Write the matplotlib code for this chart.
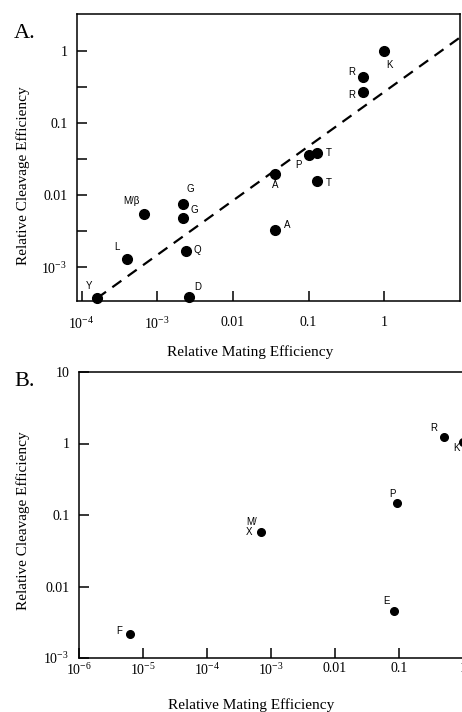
import numpy as np
import matplotlib
matplotlib.use('Agg')
import matplotlib.pyplot as plt

plt.rcParams['mathtext.fontset'] = 'custom'
plt.rcParams['mathtext.rm'] = 'Liberation Serif'
plt.rcParams['mathtext.it'] = 'Liberation Serif:italic'
plt.rcParams['mathtext.bf'] = 'Liberation Serif:bold'

serif = 'Liberation Serif'
sans = 'Liberation Sans'

#%% panel A data
a_mating = [1.0, 0.53, 0.53, 0.10, 0.13, 0.036, 0.13, 0.036,
            6.6e-4, 2.2e-3, 2.2e-3, 2.4e-3, 4.0e-4, 1.58e-4, 2.65e-3]
a_cleav = [1.0, 0.43, 0.27, 0.036, 0.038, 0.0196, 0.0156, 0.0033,
           0.0055, 0.0075, 0.0048, 0.00166, 0.00129, 3.7e-4, 3.8e-4]
a_names = ['K', 'R', 'R', 'P', 'T', 'A', 'T', 'A',
           'M/β', 'G', 'G', 'Q', 'L', 'Y', 'D']
# label offsets in pixels (layout only)
a_off = [(5, -14), (-12, 5), (-12, -3), (-10, -10), (11, 0), (0, -11), (11, -2), (12, 5),
         (-12, 13), (7, 15), (11, 8), (11, 1), (-10, 12), (-8, 12), (8, 10)]

fit_x = [1.6e-4, 10]
fit_y = [3.7e-4, 1.53]

a_xticks = [1e-4, 1e-3, 1e-2, 0.1, 1]
a_xlabels = [r'$10^{-4}$', r'$10^{-3}$', '0.01', '0.1', '1']
a_yticks = [1e-3, 1e-2, 0.1, 1]
a_ylabels = [r'$10^{-3}$', '0.01', '0.1', '1']

#%% panel B data
b_mating = [6.3e-6, 6.9e-4, 0.093, 0.50, 1.0, 0.083]
b_cleav = [2.2e-3, 0.058, 0.148, 1.23, 1.05, 0.0046]
b_names = ['F', 'M/\nX', 'P', 'R', 'K', 'E']
b_off = [(-11, 3), (-4, -5), (-5, 9), (-10, 9), (-7, -6), (-7, 10)]

b_xticks = [1e-6, 1e-5, 1e-4, 1e-3, 1e-2, 0.1, 1]
b_xlabels = [r'$10^{-6}$', r'$10^{-5}$', r'$10^{-4}$', r'$10^{-3}$', '0.01', '0.1', '1']
b_yticks = [1e-3, 1e-2, 0.1, 1, 10]
b_ylabels = [r'$10^{-3}$', '0.01', '0.1', '1', '10']

#%%
fig = plt.figure(figsize=(4.62, 7.12), dpi=100)

axA = fig.add_axes([77/462, 1-301/712, 383/462, 287/712])
axB = fig.add_axes([79/462, 1-658/712, 384/462, 286/712])

for ax in (axA, axB):
    ax.set_xscale('log')
    ax.set_yscale('log')
    for s in ax.spines.values():
        s.set_linewidth(1.1)
    ax.tick_params(which='both', direction='in', length=7, width=1.1,
                   top=False, right=False)

# A
axA.plot(fit_x, fit_y, color='black', lw=1.6, dashes=(5, 3.5))
axA.plot(a_mating, a_cleav, 'o', color='black', ms=7, clip_on=False, zorder=5)
for x, y, n, o in zip(a_mating, a_cleav, a_names, a_off):
    axA.annotate(n, (x, y), xytext=o, textcoords='offset pixels',
                 ha='center', va='center', fontsize=7, family=sans)
axA.set_xlim(10**-4.06, 10**1.0)
axA.set_ylim(10**-3.47, 10**0.51)
axA.set_xticks(a_xticks)
axA.set_xticklabels(a_xlabels)
axA.set_yticks(a_yticks)
axA.set_yticklabels(a_ylabels)
axA.set_yticks([10**-2.5, 10**-1.5, 10**-0.5], minor=True)
axA.xaxis.set_minor_locator(matplotlib.ticker.NullLocator())
axA.yaxis.set_minor_formatter(matplotlib.ticker.NullFormatter())
axA.tick_params(axis='x', which='both', pad=11)
axA.tick_params(axis='y', which='both', pad=7)

# B
axB.plot(b_mating, b_cleav, 'o', color='black', ms=5.5, clip_on=False, zorder=5)
for x, y, n, o in zip(b_mating, b_cleav, b_names, b_off):
    if '\n' in n:
        axB.annotate(n, (x, y), xytext=o, textcoords='offset pixels',
                     ha='right', va='bottom', multialignment='left',
                     fontsize=7, family=sans, linespacing=0.95)
    else:
        axB.annotate(n, (x, y), xytext=o, textcoords='offset pixels',
                     ha='center', va='center', fontsize=7, family=sans)
axB.set_xlim(1e-6, 1)
axB.set_ylim(1e-3, 10)
axB.set_xticks(b_xticks)
axB.set_xticklabels(b_xlabels)
axB.set_yticks(b_yticks)
axB.set_yticklabels(b_ylabels)
axB.xaxis.set_minor_locator(matplotlib.ticker.NullLocator())
axB.yaxis.set_minor_locator(matplotlib.ticker.NullLocator())
axB.tick_params(axis='x', pad=3)
axB.tick_params(axis='y', pad=7)

for ax in (axA, axB):
    for lab in ax.get_xticklabels() + ax.get_yticklabels():
        lab.set_family(serif)
        lab.set_fontsize(10)

# axis titles and panel letters
fig.text(250/462, 1-345/712, 'Relative Mating Efficiency', ha='center', va='top',
         fontsize=11, family=serif)
fig.text(251/462, 1-698/712, 'Relative Mating Efficiency', ha='center', va='top',
         fontsize=11, family=serif)
fig.text(23/462, 1-176/712, 'Relative Cleavage Efficiency', ha='center', va='center',
         rotation=90, fontsize=11, family=serif)
fig.text(23/462, 1-521/712, 'Relative Cleavage Efficiency', ha='center', va='center',
         rotation=90, fontsize=11, family=serif)
fig.text(14/462, 1-38/712, 'A.', ha='left', va='baseline', fontsize=16, family=serif)
fig.text(14/462, 1-386/712, 'B.', ha='left', va='baseline', fontsize=16, family=serif)

plt.savefig('out.png', dpi=100)
